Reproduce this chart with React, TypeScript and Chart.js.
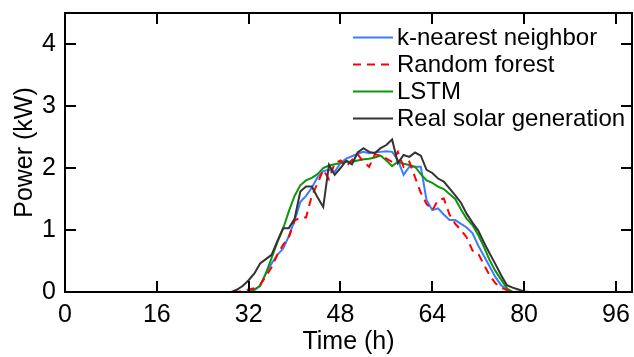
import React, { useEffect, useRef } from "react";
import { Chart, registerables } from "chart.js";

Chart.register(...registerables);

const FONT = "'Liberation Sans', Arial, Helvetica, sans-serif";

// Hour index 0..98 (one value per hour)
const seriesLabels = ["k-nearest neighbor", "Random forest", "LSTM", "Real solar generation"];

const knn = [
  0, 0, 0, 0, 0, 0, 0, 0, 0, 0,
  0, 0, 0, 0, 0, 0, 0, 0, 0, 0,
  0, 0, 0, 0, 0, 0, 0, 0, 0, 0,
  0, 0, 0, 0.03, 0.1, 0.3, 0.46, 0.6, 0.7, 0.9,
  1.15, 1.45, 1.55, 1.68, 1.85, 1.95, 1.97, 1.94, 2.08, 2.15,
  2.19, 2.23, 2.26, 2.24, 2.25, 2.26, 2.27, 2.26, 2.13, 1.89,
  2.02, 2.02, 2.02, 1.48, 1.32, 1.35, 1.25, 1.16, 1.16, 1.1,
  1.04, 0.95, 0.75, 0.58, 0.41, 0.24, 0.11, 0.04, 0, 0,
  0, 0, 0, 0, 0, 0, 0, 0, 0, 0,
  0, 0, 0, 0, 0, 0, 0, 0, 0,
];

const randomForest = [
  0, 0, 0, 0, 0, 0, 0, 0, 0, 0,
  0, 0, 0, 0, 0, 0, 0, 0, 0, 0,
  0, 0, 0, 0, 0, 0, 0, 0, 0, 0,
  0, 0.02, 0.04, 0.06, 0.12, 0.25, 0.4, 0.6, 0.76, 0.88,
  1.15, 1.2, 1.2, 1.55, 1.75, 1.97, 1.82, 2.08, 2.12, 2.02,
  2.13, 2.22, 2.1, 2.02, 2.22, 2.2, 2.15, 2.1, 2.26, 2.02,
  2.1, 1.85, 1.6, 1.42, 1.32, 1.48, 1.51, 1.25, 1.1, 1.0,
  0.88, 0.67, 0.62, 0.44, 0.27, 0.14, 0.07, 0.03, 0.01, 0,
  0, 0, 0, 0, 0, 0, 0, 0, 0, 0,
  0, 0, 0, 0, 0, 0, 0, 0, 0,
];

const lstm = [
  0, 0, 0, 0, 0, 0, 0, 0, 0, 0,
  0, 0, 0, 0, 0, 0, 0, 0, 0, 0,
  0, 0, 0, 0, 0, 0, 0, 0, 0, 0,
  0, 0, 0, 0.04, 0.1, 0.3, 0.55, 0.8, 1.02, 1.3,
  1.55, 1.72, 1.8, 1.84, 1.9, 2.0, 2.04, 2.06, 2.08, 2.1,
  2.1, 2.12, 2.14, 2.15, 2.17, 2.2, 2.12, 2.03, 2.1, 2.07,
  2.05, 2.02, 1.9, 1.8, 1.76, 1.7, 1.66, 1.58, 1.5, 1.33,
  1.18, 1.08, 0.92, 0.73, 0.51, 0.34, 0.2, 0.06, 0, 0,
  0, 0, 0, 0, 0, 0, 0, 0, 0, 0,
  0, 0, 0, 0, 0, 0, 0, 0, 0,
];

const realSolar = [
  0, 0, 0, 0, 0, 0, 0, 0, 0, 0,
  0, 0, 0, 0, 0, 0, 0, 0, 0, 0,
  0, 0, 0, 0, 0, 0, 0, 0, 0, 0,
  0.04, 0.1, 0.19, 0.3, 0.46, 0.53, 0.6, 0.82, 1.03, 1.03,
  1.18, 1.62, 1.7, 1.7, 1.53, 1.37, 2.05, 1.89, 2.0, 2.12,
  2.06, 2.25, 2.32, 2.26, 2.24, 2.32, 2.37, 2.46, 2.08, 2.21,
  2.18, 2.25, 2.2, 1.97, 1.92, 1.83, 1.78, 1.67, 1.56, 1.44,
  1.26, 1.12, 0.99, 0.8, 0.62, 0.45, 0.27, 0.11, 0.07, 0.04,
  0.01, 0, 0, 0, 0, 0, 0, 0, 0, 0,
  0, 0, 0, 0, 0, 0, 0, 0, 0,
];

const xTicks = [0, 16, 32, 48, 64, 80, 96];
const yTicks = [0, 1, 2, 3, 4];

const toPoints = (arr: number[]) => arr.map((y, i) => ({ x: i, y }));

const zeroPadding = (scale: any) => {
  scale.paddingLeft = 0;
  scale.paddingRight = 0;
  scale.paddingTop = 0;
  scale.paddingBottom = 0;
};

const framePlugin = {
  id: "frameAndLegend",
  afterDatasetsDraw(chart: any) {
    const { ctx, chartArea, scales } = chart;
    const { left, right, top, bottom } = chartArea;
    const xs = scales.x;
    const ys = scales.y;
    ctx.save();
    ctx.strokeStyle = "#000";
    ctx.lineWidth = 2;
    ctx.strokeRect(left, top, right - left, bottom - top);
    const tl = 11;
    ctx.beginPath();
    xTicks.forEach((v) => {
      const px = Math.round(xs.getPixelForValue(v));
      ctx.moveTo(px, bottom);
      ctx.lineTo(px, bottom - tl);
      ctx.moveTo(px, top);
      ctx.lineTo(px, top + tl);
    });
    yTicks.forEach((v) => {
      const py = Math.round(ys.getPixelForValue(v));
      ctx.moveTo(left, py);
      ctx.lineTo(left + tl, py);
      ctx.moveTo(right, py);
      ctx.lineTo(right - tl, py);
    });
    ctx.stroke();

    // axis titles
    ctx.fillStyle = "#000";
    ctx.font = `25px ${FONT}`;
    ctx.textAlign = "center";
    ctx.textBaseline = "middle";
    ctx.fillText("Time (h)", (left + right) / 2, chart.height - 15);
    ctx.save();
    ctx.translate(25, (top + bottom) / 2);
    ctx.rotate(-Math.PI / 2);
    ctx.fillText("Power (kW)", 0, 0);
    ctx.restore();

    // legend
    ctx.font = `24px ${FONT}`;
    ctx.textAlign = "left";
    const x1 = right - 279;
    const x2 = right - 239;
    const tx = right - 235;
    chart.data.datasets.forEach((ds: any, i: number) => {
      const yy = top + 24.5 + i * 27;
      ctx.beginPath();
      ctx.strokeStyle = ds.borderColor;
      ctx.lineWidth = 2;
      ctx.setLineDash(ds.borderDash || []);
      ctx.moveTo(x1, yy);
      ctx.lineTo(x2, yy);
      ctx.stroke();
      ctx.setLineDash([]);
      ctx.fillStyle = "#000";
      ctx.fillText(ds.label, tx, yy + 1);
    });
    ctx.restore();
  },
};

export default function App() {
  const ref = useRef<HTMLCanvasElement | null>(null);
  useEffect(() => {
    document.body.style.margin = "0";
    const canvas = ref.current;
    if (!canvas) return;
    const chart = new Chart(canvas, {
      type: "line",
      data: {
        datasets: [
          {
            label: seriesLabels[0],
            data: toPoints(knn),
            borderColor: "#3a7dff",
            borderWidth: 2,
            pointRadius: 0,
            tension: 0,
            order: 3,
          },
          {
            label: seriesLabels[1],
            data: toPoints(randomForest),
            borderColor: "#ff0000",
            borderWidth: 2,
            borderDash: [8, 6],
            pointRadius: 0,
            tension: 0,
            order: 1,
          },
          {
            label: seriesLabels[2],
            data: toPoints(lstm),
            borderColor: "#0d960d",
            borderWidth: 2,
            pointRadius: 0,
            tension: 0,
            order: 2,
          },
          {
            label: seriesLabels[3],
            data: toPoints(realSolar),
            borderColor: "#333333",
            borderWidth: 2,
            pointRadius: 0,
            tension: 0,
            order: 0,
          },
        ],
      },
      options: {
        responsive: false,
        animation: false,
        devicePixelRatio: 1,
        layout: { padding: { top: 13, left: 1, right: 2, bottom: 0 } },
        plugins: { legend: { display: false }, tooltip: { enabled: false } },
        scales: {
          x: {
            type: "linear",
            min: 0,
            max: 98.8,
            grid: { display: false, drawTicks: false },
            border: { display: false },
            afterBuildTicks: (scale: any) => {
              scale.ticks = xTicks.map((v) => ({ value: v }));
            },
            afterFit: (scale: any) => {
              scale.height = 65;
              zeroPadding(scale);
            },
            ticks: {
              autoSkip: false,
              maxRotation: 0,
              padding: 8,
              color: "#000",
              font: { family: FONT, size: 25 },
            },
          },
          y: {
            type: "linear",
            min: 0,
            max: 4.5,
            grid: { display: false, drawTicks: false },
            border: { display: false },
            afterBuildTicks: (scale: any) => {
              scale.ticks = yTicks.map((v) => ({ value: v }));
            },
            afterFit: (scale: any) => {
              scale.width = 64;
              zeroPadding(scale);
            },
            ticks: {
              padding: 9,
              color: "#000",
              font: { family: FONT, size: 25 },
            },
          },
        },
      },
      plugins: [framePlugin],
    });
    return () => chart.destroy();
  }, []);
  return (
    <div style={{ width: 634, height: 357 }}>
      <canvas ref={ref} width={634} height={357} style={{ display: "block" }} />
    </div>
  );
}
